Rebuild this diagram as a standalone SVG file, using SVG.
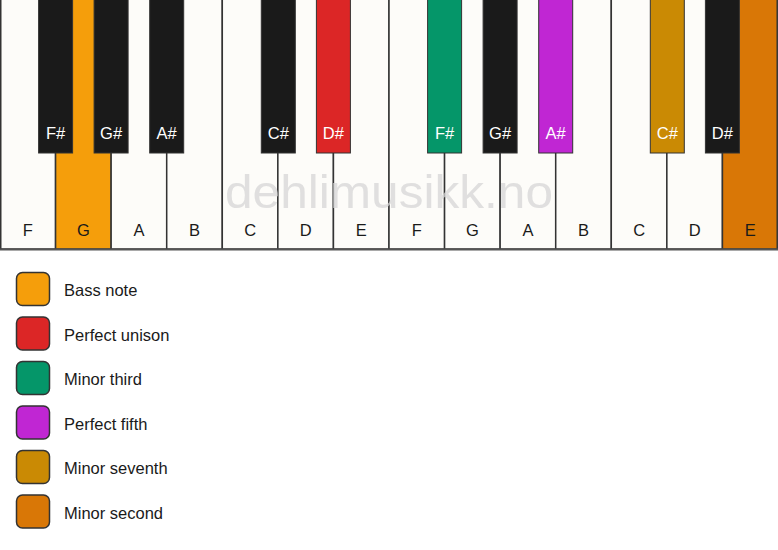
<svg xmlns="http://www.w3.org/2000/svg" width="778" height="550" viewBox="0 0 778 550">
<style>
.w{fill:#fdfcf9;stroke:#333;stroke-width:1.5}
.b{stroke:#333;stroke-width:1}
.lw{font-family:"Liberation Sans",Arial,sans-serif;font-size:16.5px;fill:#1a1a1a;text-anchor:middle}
.lb{font-family:"Liberation Sans",Arial,sans-serif;font-size:16.5px;fill:#fff;text-anchor:middle}
.sw{stroke:#333;stroke-width:1.5}
.lt{font-family:"Liberation Sans",Arial,sans-serif;font-size:16.5px;fill:#1a1a1a}
</style>
<rect width="778" height="550" fill="#fff"/>
<g id="white-keys">
<g id="w1"><rect class="w" x="0.75" y="-2" width="54.8" height="251"/><text class="lw" x="27.8" y="236">F</text></g>
<g id="w2"><rect class="w" x="55.57" y="-2" width="55.57" height="251" style="fill:#f59e0b"/><text class="lw" x="83.4" y="236">G</text></g>
<g id="w3"><rect class="w" x="111.14" y="-2" width="55.57" height="251"/><text class="lw" x="138.9" y="236">A</text></g>
<g id="w4"><rect class="w" x="166.71" y="-2" width="55.57" height="251"/><text class="lw" x="194.5" y="236">B</text></g>
<g id="w5"><rect class="w" x="222.29" y="-2" width="55.57" height="251"/><text class="lw" x="250.1" y="236">C</text></g>
<g id="w6"><rect class="w" x="277.86" y="-2" width="55.57" height="251"/><text class="lw" x="305.6" y="236">D</text></g>
<g id="w7"><rect class="w" x="333.43" y="-2" width="55.57" height="251"/><text class="lw" x="361.2" y="236">E</text></g>
<g id="w8"><rect class="w" x="389" y="-2" width="55.57" height="251"/><text class="lw" x="416.8" y="236">F</text></g>
<g id="w9"><rect class="w" x="444.57" y="-2" width="55.57" height="251"/><text class="lw" x="472.4" y="236">G</text></g>
<g id="w10"><rect class="w" x="500.14" y="-2" width="55.57" height="251"/><text class="lw" x="527.9" y="236">A</text></g>
<g id="w11"><rect class="w" x="555.71" y="-2" width="55.57" height="251"/><text class="lw" x="583.5" y="236">B</text></g>
<g id="w12"><rect class="w" x="611.29" y="-2" width="55.57" height="251"/><text class="lw" x="639.1" y="236">C</text></g>
<g id="w13"><rect class="w" x="666.86" y="-2" width="55.57" height="251"/><text class="lw" x="694.6" y="236">D</text></g>
<g id="w14"><rect class="w" x="722.43" y="-2" width="54.8" height="251" style="fill:#d97706"/><text class="lw" x="750.2" y="236">E</text></g>
<line x1="0" y1="249.5" x2="778" y2="249.5" stroke="#555" stroke-width="2"/>
</g>
<text id="watermark" x="225" y="208" font-family="Liberation Sans,Arial,sans-serif" font-size="47" fill="#d6d6d6" fill-opacity="0.75" textLength="328" lengthAdjust="spacingAndGlyphs">dehlimusikk.no</text>
<g id="black-keys">
<g id="b1"><rect class="b" x="38.6" y="-1" width="34" height="154" fill="#1a1a1a"/><text class="lb" x="55.6" y="139">F#</text></g>
<g id="b2"><rect class="b" x="94.1" y="-1" width="34" height="154" fill="#1a1a1a"/><text class="lb" x="111.1" y="139">G#</text></g>
<g id="b3"><rect class="b" x="149.7" y="-1" width="34" height="154" fill="#1a1a1a"/><text class="lb" x="166.7" y="139">A#</text></g>
<g id="b4"><rect class="b" x="261.3" y="-1" width="34" height="154" fill="#1a1a1a"/><text class="lb" x="278.3" y="139">C#</text></g>
<g id="b5"><rect class="b" x="316.4" y="-1" width="34" height="154" fill="#dc2626"/><text class="lb" x="333.4" y="139">D#</text></g>
<g id="b6"><rect class="b" x="427.6" y="-1" width="34" height="154" fill="#059669"/><text class="lb" x="444.6" y="139">F#</text></g>
<g id="b7"><rect class="b" x="483.1" y="-1" width="34" height="154" fill="#1a1a1a"/><text class="lb" x="500.1" y="139">G#</text></g>
<g id="b8"><rect class="b" x="538.7" y="-1" width="34" height="154" fill="#c026d3"/><text class="lb" x="555.7" y="139">A#</text></g>
<g id="b9"><rect class="b" x="650.3" y="-1" width="34" height="154" fill="#ca8a04"/><text class="lb" x="667.3" y="139">C#</text></g>
<g id="b10"><rect class="b" x="705.4" y="-1" width="34" height="154" fill="#1a1a1a"/><text class="lb" x="722.4" y="139">D#</text></g>
</g>
<g id="legend">
<g id="l1"><rect class="sw" x="16.5" y="272.5" width="33" height="33" rx="6" fill="#f59e0b"/><text class="lt" x="64" y="296">Bass note</text></g>
<g id="l2"><rect class="sw" x="16.5" y="317" width="33" height="33" rx="6" fill="#dc2626"/><text class="lt" x="64" y="340.5">Perfect unison</text></g>
<g id="l3"><rect class="sw" x="16.5" y="361.5" width="33" height="33" rx="6" fill="#059669"/><text class="lt" x="64" y="385">Minor third</text></g>
<g id="l4"><rect class="sw" x="16.5" y="406" width="33" height="33" rx="6" fill="#c026d3"/><text class="lt" x="64" y="429.5">Perfect fifth</text></g>
<g id="l5"><rect class="sw" x="16.5" y="450.5" width="33" height="33" rx="6" fill="#ca8a04"/><text class="lt" x="64" y="474">Minor seventh</text></g>
<g id="l6"><rect class="sw" x="16.5" y="495" width="33" height="33" rx="6" fill="#d97706"/><text class="lt" x="64" y="518.5">Minor second</text></g>
</g>
</svg>
